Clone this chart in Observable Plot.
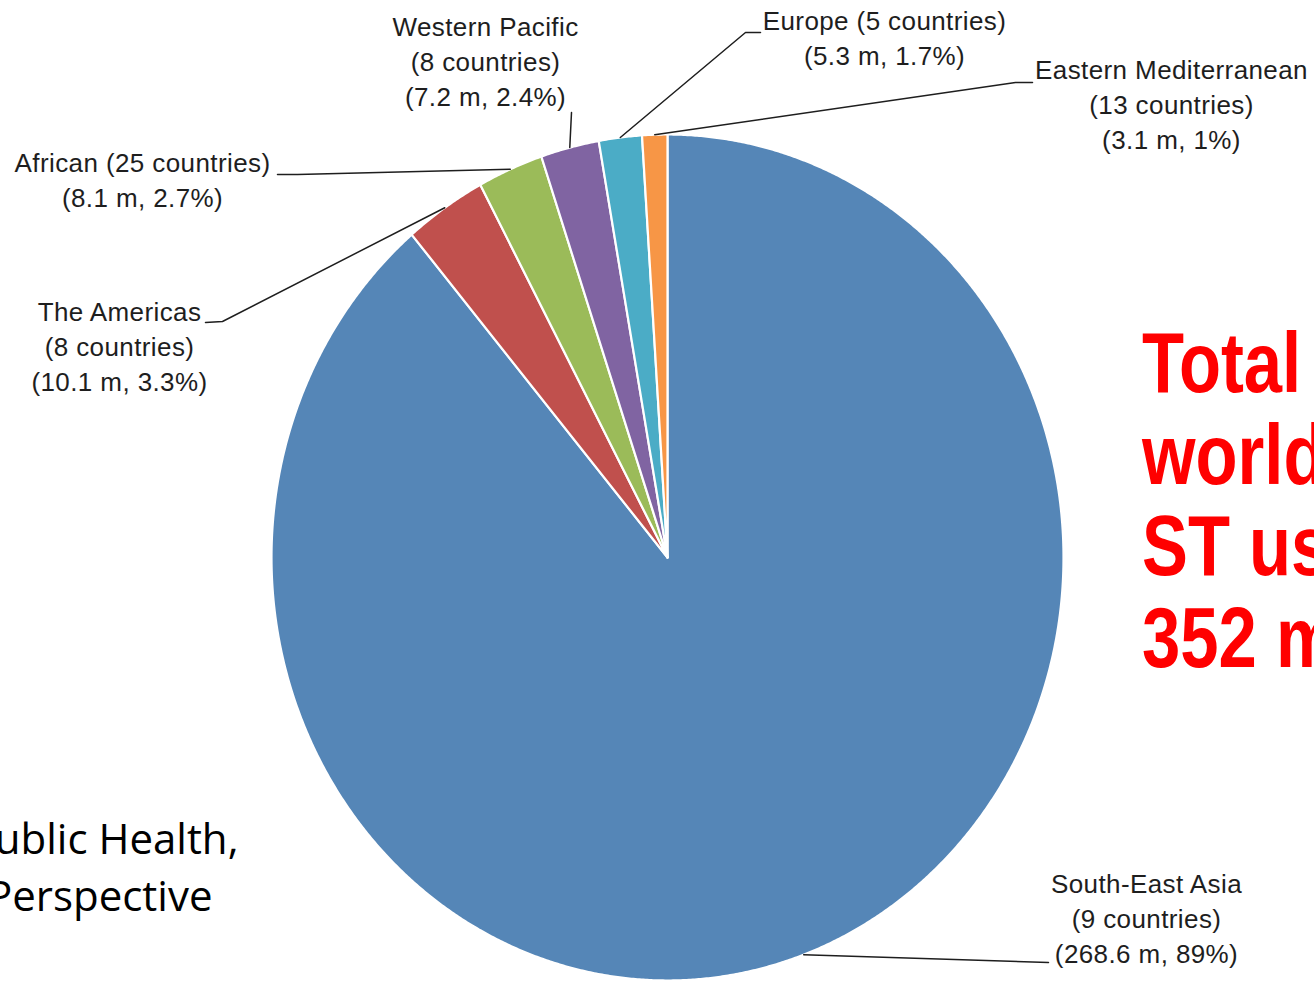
<!DOCTYPE html>
<html><head><meta charset="utf-8">
<script src="https://cdn.jsdelivr.net/npm/d3@7"></script>
<script src="https://cdn.jsdelivr.net/npm/@observablehq/plot@0.6"></script>
<style>html,body{margin:0;padding:0;overflow:hidden;background:#fff;}</style>
</head><body><div id="chart"></div>
<script>
// ---- data ----
const regions = ["South-East Asia", "The Americas", "African", "Western Pacific", "Europe", "Eastern Mediterranean"];
const countries = [9, 8, 25, 8, 5, 13];
const users = [268.6, 10.1, 8.1, 7.2, 5.3, 3.1];
const shares = ["89%", "3.3%", "2.7%", "2.4%", "1.7%", "1%"];
const colors = ["#5586b7", "#c0504d", "#9bbb59", "#8064a2", "#4bacc6", "#f79646"];
const headline = ["Total number of", "worldwide", "ST users", "352 million"];
const sourceLines = ["Smokeless Tobacco and Public Health,", "A Global Perspective"];

// ---- layout (pixels) ----
const W = 1314, H = 983;
const CX = 667, CY = 557, RX = 396, RY = 423;
const fx = px => (px - CX) / RX;
const fy = py => (CY - py) / RY;
const layout = {
  "South-East Asia":       {x: 1146, base: 893, one: false, path: [[1048, 962]]},
  "The Americas":          {x: 119,  base: 321, one: false, path: [[222, 321], [205, 322]]},
  "African":               {x: 142,  base: 172, one: true,  path: [[297, 174], [277, 174]]},
  "Western Pacific":       {x: 485,  base: 36,  one: false, path: [[571, 112]]},
  "Europe":                {x: 884,  base: 30,  one: true,  path: [[745, 32], [760, 32]]},
  "Eastern Mediterranean": {x: 1171, base: 79,  one: false, path: [[1015, 82], [1032, 82]]}
};
const FS = 26, LH = 35;

// ---- geometry ----
const total = d3.sum(users);
let cum = 0;
const slices = regions.map((r, i) => {
  const a0 = cum / total * 2 * Math.PI; cum += users[i];
  const a1 = cum / total * 2 * Math.PI;
  return {r, a0, a1, i};
});
const pts = [];
for (const s of slices) {
  pts.push({r: s.r, x: 0, y: 0});
  const n = Math.max(2, Math.ceil((s.a1 - s.a0) / 0.005));
  for (let k = 0; k <= n; k++) {
    const a = s.a0 + (s.a1 - s.a0) * k / n;
    pts.push({r: s.r, x: Math.sin(a), y: Math.cos(a)});
  }
}
const leaders = [];
for (const s of slices) {
  const m = (s.a0 + s.a1) / 2;
  leaders.push({r: s.r, x: Math.sin(m), y: Math.cos(m)});
  for (const [px, py] of layout[s.r].path) leaders.push({r: s.r, x: fx(px), y: fy(py)});
}
const labels = slices.map(s => {
  const L = layout[s.r], i = s.i;
  const text = L.one
    ? `${s.r} (${countries[i]} countries)\n(${users[i]} m, ${shares[i]})`
    : `${s.r}\n(${countries[i]} countries)\n(${users[i]} m, ${shares[i]})`;
  return {x: fx(L.x), y: fy(L.base - 0.71 * FS - 7), text};
});

const chart = Plot.plot({
  width: W, height: H, margin: 0,
  x: {domain: [-1, 1], range: [CX - RX, CX + RX], axis: null},
  y: {domain: [-1, 1], range: [CY + RY, CY - RY], axis: null},
  color: {domain: regions, range: colors},
  style: {background: "#fff", overflow: "hidden"},
  marks: [
    Plot.line(pts, {x: "x", y: "y", z: "r", fill: "r", stroke: "#fff", strokeWidth: 2.2, curve: "linear-closed", strokeLinejoin: "round"}),
    Plot.line(leaders, {x: "x", y: "y", z: "r", stroke: "#1e1e1e", strokeWidth: 1.5}),
    Plot.text(labels, {x: "x", y: "y", text: "text", textAnchor: "middle", lineAnchor: "top",
      fontSize: FS, lineHeight: LH / FS, fontFamily: "'Liberation Sans', Arial, sans-serif", fill: "#1e1e1e", className: "lbl"}),
    Plot.text([headline.join("\n")], {x: fx(1142), y: fy(395 - 0.71 * 86 - 7), text: d => d, textAnchor: "start", lineAnchor: "top",
      fontSize: 86, lineHeight: 91.7 / 86, fontWeight: "bold", fontFamily: "'Liberation Sans Narrow', 'Arial Narrow', 'Liberation Sans', sans-serif", fill: "#ff0000", className: "headline"}),
    Plot.text([{t: sourceLines[0], x: 238, b: 853}, {t: sourceLines[1], x: 212, b: 910}],
      {x: d => fx(d.x), y: d => fy(d.b - 0.71 * 42), text: "t", textAnchor: "end", lineAnchor: "top",
       fontSize: 42, fontFamily: "'Open Sans', sans-serif", fill: "#000"})
  ]
});
// condense the headline horizontally (narrow bold face) and widen label tracking slightly
const hg = chart.querySelector("g.headline");
if (hg) hg.setAttribute("transform", "translate(1142,0) scale(0.8,1) translate(-1142,0)");
const lg = chart.querySelector("g.lbl");
if (lg) lg.style.letterSpacing = "0.4px";
document.getElementById("chart").appendChild(chart);
</script>
</body></html>
